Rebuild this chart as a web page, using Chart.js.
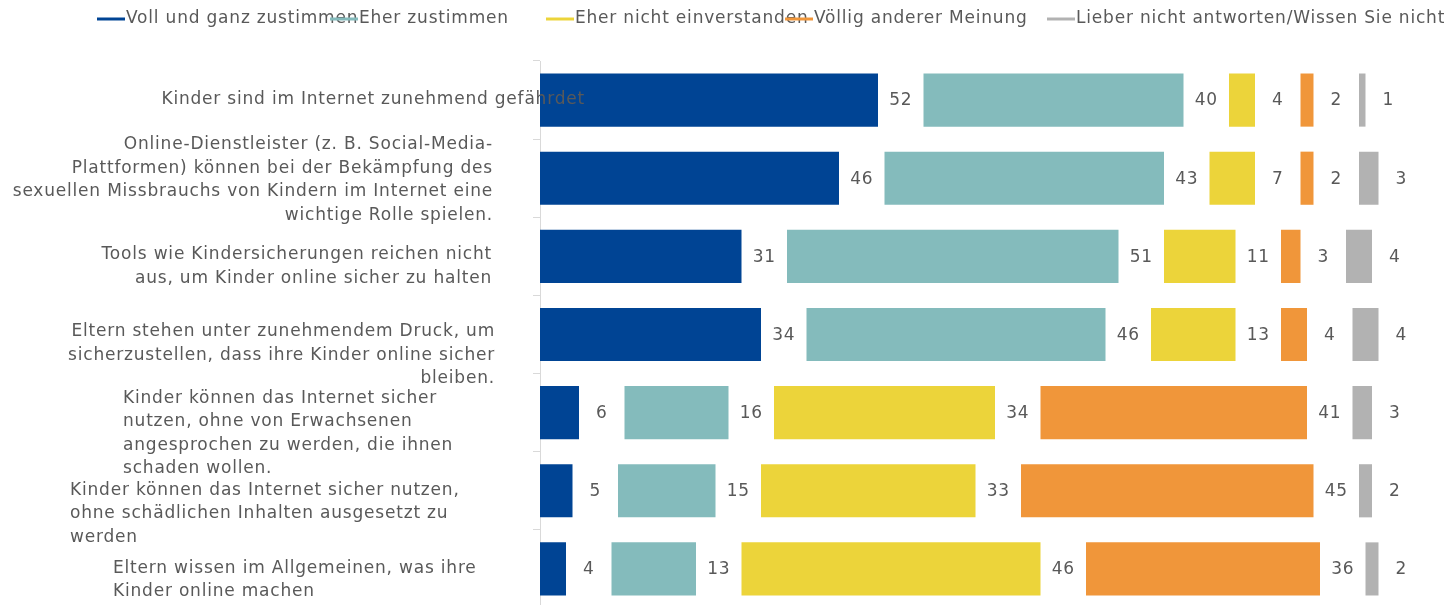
<!DOCTYPE html>
<html>
<head>
<meta charset="utf-8">
<script src="https://cdn.jsdelivr.net/npm/chart.js@4/dist/chart.umd.min.js"></script>
<style>
  html, body { margin: 0; padding: 0; background: #fff; overflow: hidden; }
  #wrap { width: 1444px; height: 608px; position: relative; }
</style>
</head>
<body>
<div id="wrap"><canvas id="chart"></canvas></div>
<script>
"use strict";
// categories (line breaks as in the original)
var categories = [
    ["Kinder sind im Internet zunehmend gefährdet"],
    ["Online-Dienstleister (z. B. Social-Media-", "Plattformen) können bei der Bekämpfung des", "sexuellen Missbrauchs von Kindern im Internet eine", "wichtige Rolle spielen."],
    ["Tools wie Kindersicherungen reichen nicht", "aus, um Kinder online sicher zu halten"],
    ["Eltern stehen unter zunehmendem Druck, um", "sicherzustellen, dass ihre Kinder online sicher", "bleiben."],
    ["Kinder können das Internet sicher", "nutzen, ohne von Erwachsenen", "angesprochen zu werden, die ihnen", "schaden wollen."],
    ["Kinder können das Internet sicher nutzen,", "ohne schädlichen Inhalten ausgesetzt zu", "werden"],
    ["Eltern wissen im Allgemeinen, was ihre", "Kinder online machen"]
];
var seriesNames = ["Voll und ganz zustimmen", "Eher zustimmen", "Eher nicht einverstanden", "Völlig anderer Meinung", "Lieber nicht antworten/Wissen Sie nicht"];
var vollZustimmen = [52, 46, 31, 34, 6, 5, 4];
var eherZustimmen = [40, 43, 51, 46, 16, 15, 13];
var eherNicht = [4, 7, 11, 13, 34, 33, 46];
var voelligAnders = [2, 2, 3, 4, 41, 45, 36];
var keineAntwort = [1, 3, 4, 4, 3, 2, 2];

var colors = ["#004494", "#84BBBC", "#ECD43A", "#F0963A", "#B2B2B2"];
var GAP = 7; // spacer between segments that holds the value label
var textColor = "#595959";
var fontFamily = "'DejaVu Sans', Verdana, sans-serif";

// where the category texts sit (Excel-like placement)
var labelLayout = [
    { x: 585, align: "right", dy: 0 },
    { x: 493, align: "right", dy: 2 },
    { x: 492, align: "right", dy: 10 },
    { x: 495, align: "right", dy: 21 },
    { x: 123, align: "left", dy: 21 },
    { x: 70, align: "left", dy: 23 },
    { x: 113, align: "left", dy: 11 }
];
var legendX = [97, 330, 546, 785, 1047];

var allSeries = [vollZustimmen, eherZustimmen, eherNicht, voelligAnders, keineAntwort];
var datasets = [];
allSeries.forEach(function(vals, k) {
    datasets.push({
        label: seriesNames[k],
        data: vals,
        backgroundColor: colors[k],
        borderWidth: 0,
        stack: "s"
    });
    datasets.push({
        label: "gap" + k,
        data: vals.map(function() { return GAP; }),
        valueLabels: vals,
        backgroundColor: "rgba(0,0,0,0)",
        stack: "s"
    });
});

var drawExtras = {
    id: "drawExtras",
    afterDatasetsDraw: function(chart) {
        var ctx = chart.ctx;
        ctx.save();
        ctx.font = "17px " + fontFamily;
        ctx.letterSpacing = "0.8px";
        ctx.fillStyle = textColor;
        ctx.textAlign = "center";
        ctx.textBaseline = "middle";
        chart.data.datasets.forEach(function(ds, i) {
            if (!ds.valueLabels) return;
            chart.getDatasetMeta(i).data.forEach(function(bar, j) {
                ctx.fillText(String(ds.valueLabels[j]), (bar.x + bar.base) / 2, bar.y + 1);
            });
        });
        // category labels
        var y = chart.scales.y;
        var lh = 23.5;
        categories.forEach(function(lines, i) {
            var lay = labelLayout[i];
            var cy = y.getPixelForValue(i) + lay.dy;
            var top = cy - (lines.length - 1) * lh / 2;
            ctx.textAlign = lay.align;
            lines.forEach(function(t, n) {
                ctx.fillText(t, lay.x, top + n * lh);
            });
        });
        // legend
        ctx.textAlign = "left";
        seriesNames.forEach(function(name, k) {
            var x = legendX[k];
            ctx.strokeStyle = colors[k];
            ctx.lineWidth = 3;
            ctx.beginPath();
            ctx.moveTo(x, 19);
            ctx.lineTo(x + 28, 19);
            ctx.stroke();
            ctx.fillText(name, x + 29, 19);
        });
        ctx.restore();
    }
};

new Chart(document.getElementById("chart"), {
    type: "bar",
    data: { labels: categories.map(function(c) { return c.join(" "); }), datasets: datasets },
    options: {
        indexAxis: "y",
        responsive: true,
        maintainAspectRatio: false,
        animation: false,
        layout: { padding: { top: 61, right: 7, bottom: 0, left: 0 } },
        datasets: { bar: { categoryPercentage: 1, barPercentage: 0.68 } },
        plugins: { legend: { display: false }, tooltip: { enabled: false } },
        scales: {
            x: { stacked: true, display: false, min: 0, max: 138 },
            y: {
                stacked: true,
                afterFit: function(s) { s.width = 540; },
                ticks: { display: false },
                grid: { offset: true, drawOnChartArea: false, drawTicks: true, tickLength: 7, color: "#D9D9D9" },
                border: { color: "#D9D9D9" }
            }
        }
    },
    plugins: [drawExtras]
});
</script>
</body>
</html>
